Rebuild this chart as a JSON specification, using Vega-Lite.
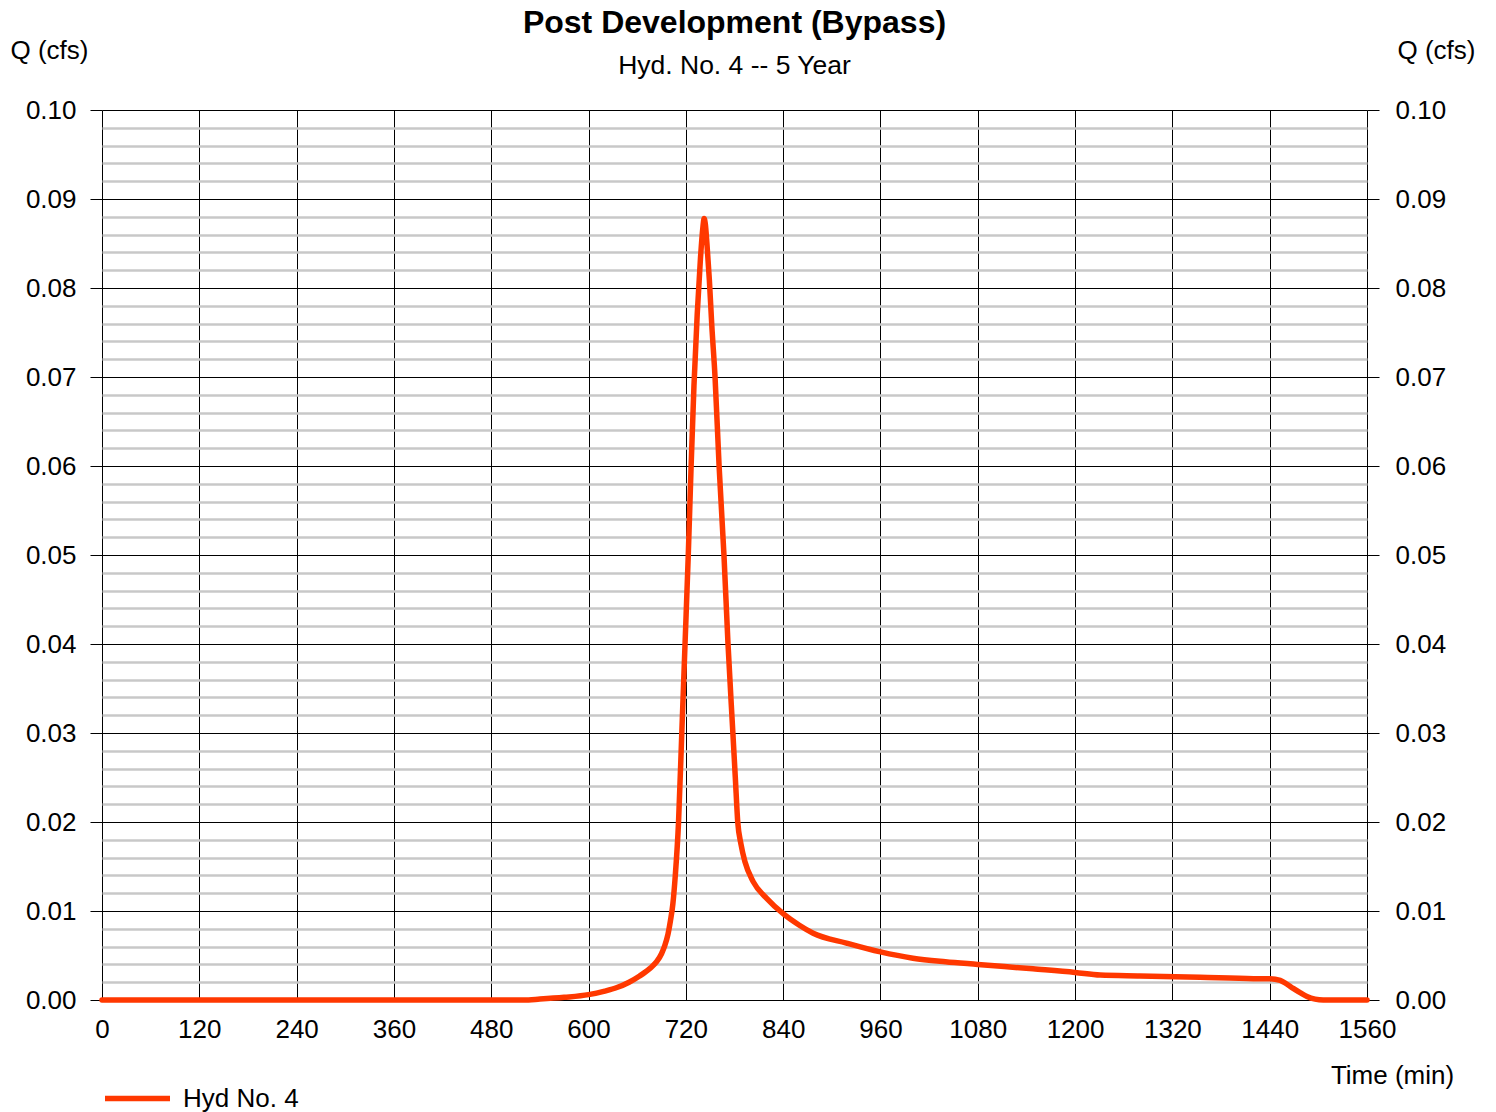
{
  "$schema": "https://vega.github.io/schema/vega-lite/v6.json",
  "width": 1265,
  "height": 890,
  "autosize": {"type": "none"},
  "padding": {"left": 102, "top": 110, "right": 129, "bottom": 112},
  "background": "white",
  "config": {
    "view": {"stroke": null},
    "font": "Liberation Sans",
    "axis": {"labelFont": "Liberation Sans", "titleFont": "Liberation Sans", "labelColor": "#000000", "titleColor": "#000000"},
    "legend": {"labelFont": "Liberation Sans", "labelColor": "#000000"}
  },
  "title": {
    "text": "Post Development (Bypass)",
    "subtitle": "Hyd. No. 4 -- 5 Year",
    "font": "Liberation Sans",
    "subtitleFont": "Liberation Sans",
    "fontSize": 32,
    "fontWeight": "bold",
    "subtitleFontSize": 26.5,
    "color": "#000000",
    "subtitleColor": "#000000",
    "anchor": "middle",
    "frame": "group",
    "offset": -43,
    "subtitlePadding": 13
  },
  "data": {
    "values": [
      {"t": 0, "q": 0}, {"t": 480, "q": 0}, {"t": 520, "q": 0}, {"t": 540, "q": 0.0001},
      {"t": 570, "q": 0.0003}, {"t": 600, "q": 0.0006}, {"t": 620, "q": 0.001}, {"t": 635, "q": 0.0014},
      {"t": 650, "q": 0.002}, {"t": 663, "q": 0.0027}, {"t": 675, "q": 0.0035}, {"t": 684, "q": 0.0043},
      {"t": 690, "q": 0.0052}, {"t": 694, "q": 0.0061}, {"t": 698, "q": 0.0074}, {"t": 701, "q": 0.0089},
      {"t": 704, "q": 0.0108}, {"t": 707, "q": 0.014}, {"t": 711, "q": 0.02}, {"t": 715, "q": 0.03},
      {"t": 719, "q": 0.04}, {"t": 723, "q": 0.05}, {"t": 726.5, "q": 0.06}, {"t": 730, "q": 0.069},
      {"t": 734, "q": 0.077}, {"t": 738, "q": 0.0833}, {"t": 741, "q": 0.0868}, {"t": 742.5, "q": 0.0878},
      {"t": 744, "q": 0.0872}, {"t": 746, "q": 0.085}, {"t": 749, "q": 0.0809}, {"t": 752, "q": 0.0758},
      {"t": 756, "q": 0.07}, {"t": 761, "q": 0.06}, {"t": 767, "q": 0.05}, {"t": 772, "q": 0.04},
      {"t": 778, "q": 0.03}, {"t": 781, "q": 0.025}, {"t": 784, "q": 0.02}, {"t": 788, "q": 0.0175},
      {"t": 793, "q": 0.0155}, {"t": 803, "q": 0.0133}, {"t": 820, "q": 0.0114}, {"t": 840, "q": 0.0097},
      {"t": 860, "q": 0.0084}, {"t": 877, "q": 0.0075}, {"t": 918, "q": 0.0064}, {"t": 960, "q": 0.0054},
      {"t": 1000, "q": 0.0047}, {"t": 1040, "q": 0.0043}, {"t": 1080, "q": 0.004}, {"t": 1148, "q": 0.0035},
      {"t": 1200, "q": 0.0031}, {"t": 1231, "q": 0.0028}, {"t": 1280, "q": 0.0027}, {"t": 1354, "q": 0.00255},
      {"t": 1420, "q": 0.0024}, {"t": 1440, "q": 0.0024}, {"t": 1453, "q": 0.0022}, {"t": 1461, "q": 0.0018},
      {"t": 1469, "q": 0.0013}, {"t": 1478, "q": 0.0008}, {"t": 1486, "q": 0.0004}, {"t": 1496, "q": 0.0001},
      {"t": 1506, "q": 0}, {"t": 1560, "q": 0}
    ]
  },
  "transform": [{"calculate": "'Hyd No. 4'", "as": "series"}],
  "layer": [
    {
      "mark": {"type": "line", "strokeWidth": 5.5, "strokeCap": "round", "strokeJoin": "round", "interpolate": "monotone"},
      "encoding": {
        "x": {
          "field": "t", "type": "quantitative",
          "scale": {"domain": [0, 1560], "nice": false, "zero": false},
          "axis": {
            "values": [0, 120, 240, 360, 480, 600, 720, 840, 960, 1080, 1200, 1320, 1440, 1560],
            "format": "d",
            "grid": true, "gridColor": "#000000", "gridWidth": 1, "gridOpacity": 1,
            "ticks": false, "domain": false,
            "labelFontSize": 26, "labelPadding": 16, "labelFlush": false, "labelOverlap": false,
            "title": "Time (min)", "titleFontSize": 26, "titleFontWeight": "normal",
            "titleX": 1290, "titleY": 75, "titleAlign": "center", "titleBaseline": "middle"
          }
        },
        "y": {
          "field": "q", "type": "quantitative",
          "scale": {"domain": [0, 0.1], "nice": false, "zero": false},
          "axis": {
            "orient": "left",
            "values": [0, 0.002, 0.004, 0.006, 0.008, 0.01, 0.012, 0.014, 0.016, 0.018, 0.02, 0.022, 0.024, 0.026, 0.028, 0.03, 0.032, 0.034, 0.036, 0.038, 0.04, 0.042, 0.044, 0.046, 0.048, 0.05, 0.052, 0.054, 0.056, 0.058, 0.06, 0.062, 0.064, 0.066, 0.068, 0.07, 0.072, 0.074, 0.076, 0.078, 0.08, 0.082, 0.084, 0.086, 0.088, 0.09, 0.092, 0.094, 0.096, 0.098, 0.1],
            "labelExpr": "abs(datum.value*100 - round(datum.value*100)) < 0.001 ? format(datum.value, '.2f') : ''",
            "grid": true,
            "gridColor": {"condition": {"test": "abs(datum.value*100 - round(datum.value*100)) < 0.001", "value": "#000000"}, "value": "#c8c8c8"},
            "gridWidth": {"condition": {"test": "abs(datum.value*100 - round(datum.value*100)) < 0.001", "value": 1}, "value": 2.5},
            "gridOpacity": 1,
            "tickColor": "#000000",
            "tickOpacity": {"condition": {"test": "abs(datum.value*100 - round(datum.value*100)) < 0.001", "value": 1}, "value": 0},
            "tickSize": 12, "domain": false,
            "labelFontSize": 26, "labelPadding": 14, "labelOverlap": false, "labelFlush": false,
            "title": "Q (cfs)", "titleFontSize": 26, "titleFontWeight": "normal", "titleAngle": 0,
            "titleX": -92, "titleY": -60, "titleAlign": "left", "titleBaseline": "middle"
          }
        },
        "color": {
          "field": "series", "type": "nominal",
          "scale": {"range": ["#ff3800"]},
          "legend": {
            "orient": "none", "legendX": 0, "legendY": 953, "title": null,
            "symbolType": "stroke", "symbolSize": 4225, "symbolStrokeWidth": 5.5,
            "labelFontSize": 26, "labelOffset": 10
          }
        }
      }
    },
    {
      "mark": {"type": "line", "strokeOpacity": 0},
      "encoding": {
        "x": {"field": "t", "type": "quantitative"},
        "y": {
          "field": "q", "type": "quantitative",
          "axis": {
            "orient": "right",
            "values": [0, 0.01, 0.02, 0.03, 0.04, 0.05, 0.06, 0.07, 0.08, 0.09, 0.1],
            "format": ".2f",
            "grid": false, "tickColor": "#000000", "tickSize": 12, "domain": false,
            "labelFontSize": 26, "labelPadding": 16, "labelOverlap": false, "labelFlush": false,
            "title": "Q (cfs)", "titleFontSize": 26, "titleFontWeight": "normal", "titleAngle": 0,
            "titleX": 30, "titleY": -60, "titleAlign": "left", "titleBaseline": "middle"
          }
        }
      }
    }
  ],
  "resolve": {"axis": {"y": "independent"}, "scale": {"y": "shared"}}
}
